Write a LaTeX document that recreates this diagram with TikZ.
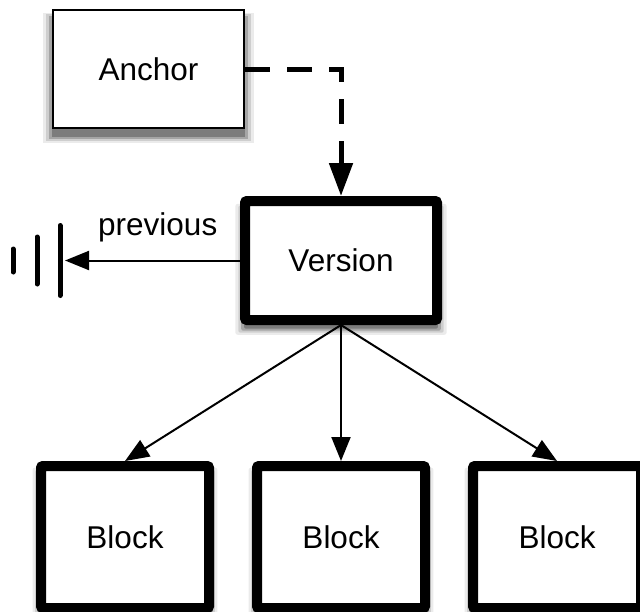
\documentclass[tikz,border=0pt]{standalone}
\usepackage{fontspec}
\setmainfont{Liberation Sans}
\usepackage{tikz}
\usetikzlibrary{arrows.meta,positioning,shadows}

\begin{document}
\begin{tikzpicture}[x=0.5pt,y=-0.5pt,
    font=\fontsize{15.75}{19}\selectfont,
    softshadow/.style={
      general shadow={draw=none,fill=black,shadow yshift=-4pt,shadow scale=1.1,opacity=.08},
      general shadow={draw=none,fill=black,shadow yshift=-4pt,shadow scale=1.07,opacity=.12},
      general shadow={draw=none,fill=black,shadow yshift=-4pt,shadow scale=1.04,opacity=.2},
      general shadow={draw=none,fill=black,shadow yshift=-4pt,shadow scale=1.01,opacity=.25}},
    thinbox/.style={draw,fill=white,line width=1pt,softshadow},
    thickbox/.style={draw,fill=white,line width=5pt,rounded corners=1pt,softshadow},
    blocksize/.style={minimum width=84pt,minimum height=71pt},
    arr/.style={-{Triangle[length=12pt,width=9.5pt]},line width=1pt},
    dasharr/.style={-{Triangle[length=16.5pt,width=11.5pt]},line width=2.5pt,
      dash pattern=on 12.5pt off 8.5pt},
    gndbar/.style={line width=2.5pt,line cap=round}]
  \useasboundingbox (0,0) rectangle (640,611);

  % Anchor and version
  \node[thinbox,minimum width=95.5pt,minimum height=59pt] (anchor) at (148.5,69) {Anchor};
  \node[thickbox,minimum width=96pt,minimum height=59.5pt] (version) at (341,260.5) {Version};

  % Blocks
  \node[thickbox,blocksize] (blk2) [below=68pt of version] {Block};
  \node[thickbox,blocksize] (blk1) [left=19pt of blk2] {Block};
  \node[thickbox,blocksize] (blk3) [right=19pt of blk2] {Block};

  % Links
  \draw[dasharr] (anchor.east) -| (version.north);
  \draw[arr] (version.south) -- (blk1.north);
  \draw[arr] (version.south) -- (blk2.north);
  \draw[arr] (version.south) -- (blk3.north);

  % Previous (ground)
  \coordinate (gnd) at (65,260.5);
  \draw[arr] (version.west) -- (gnd)
    node[pos=.47,above=6.5pt,fill=white,inner sep=2pt] (prev) {previous};
  \foreach \dx/\hh in {5/35,28/23.5,52/11.5}
    \draw[gndbar] (gnd) ++(-\dx,-\hh) -- ++(0,2*\hh);
\end{tikzpicture}
\end{document}
